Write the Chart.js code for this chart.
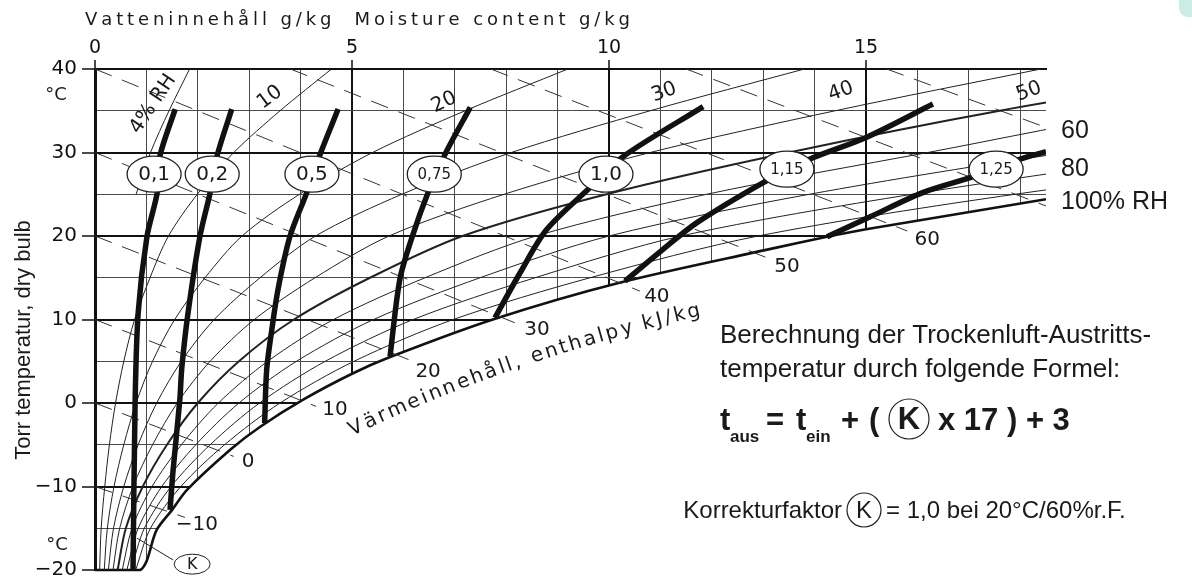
<!DOCTYPE html>
<html>
<head>
<meta charset="utf-8">
<script src="https://cdn.jsdelivr.net/npm/chart.js@4.4.1/dist/chart.umd.min.js"></script>
<style>
  html, body { margin: 0; padding: 0; background: #fff; }
  #wrap { position: relative; width: 1192px; height: 579px; }
</style>
</head>
<body>
<div id="wrap"><canvas id="mollier"></canvas></div>
<script>
// --- data: x = moisture content g/kg, y = dry bulb °C ---

// relative humidity curves, x read at these temperatures
const rhTemps = [-20, -15, -10, -5, 0, 5, 10, 15, 20, 25, 30, 35, 40];
const rh10 = [0.09, 0.12, 0.19, 0.28, 0.4, 0.56, 0.77, 1.07, 1.43, 1.99, 2.7, 3.6, 4.6];
const rh20 = [0.18, 0.24, 0.37, 0.56, 0.8, 1.12, 1.55, 2.14, 2.86, 3.98, 5.4, 7.2, 9.2];
const rh30 = [0.26, 0.36, 0.56, 0.84, 1.2, 1.68, 2.32, 3.21, 4.29, 5.97, 8.1, 10.8, 13.8];
const rh40 = [0.35, 0.48, 0.74, 1.12, 1.6, 2.24, 3.1, 4.28, 5.72, 7.96, 10.8, 14.4, 18.4];
const rh50 = [0.44, 0.6, 0.93, 1.4, 2.0, 2.8, 3.87, 5.35, 7.15, 9.95, 13.5, 17.6, 22.4];
const rh60 = [0.53, 0.72, 1.11, 1.68, 2.4, 3.36, 4.64, 6.42, 8.58, 11.9, 16.2, 20.6, 27.6];
const rh70 = [0.62, 0.84, 1.3, 1.96, 2.8, 3.92, 5.42, 7.49, 10.0, 13.9, 18.9, 25.2, 32.2];
const rh80 = [0.7, 0.96, 1.48, 2.24, 3.2, 4.48, 6.19, 8.56, 11.4, 15.9, 21.6, 28.8, 36.8];
const rh90 = [0.79, 1.08, 1.67, 2.52, 3.6, 5.04, 6.97, 9.63, 12.9, 17.9, 24.3, 32.4, 41.4];
const rh4Temps = [25, 30, 35, 40];
const rh4 = [0.8, 1.08, 1.44, 1.84];

// saturation line (100 % RH) incl. the -20 °C base
const saturation = [[0, -20], [0.88, -20], [1.2, -15.2], [1.5, -12.8], [1.79, -10.4], [2.63, -5.6],
  [3.2, -2.9], [4.05, 0.4], [5.0, 3.5], [5.74, 5.5], [7.74, 10.0], [10.2, 14.4], [13.1, 18.4],
  [14.24, 19.9], [15.0, 20.8], [18.5, 24.4]];

// correction factor K curves
const kNames = ['0,1', '0,2', '0,5', '0,75', '1,0', '1,15', '1,25'];
const k01 = [[0.74, -20], [0.78, 0], [0.84, 10.8], [1.01, 19.9], [1.21, 25.2], [1.26, 29.5], [1.56, 35.2]];
const k02 = [[1.46, -12.8], [1.52, -8], [1.65, 0.4], [1.69, 4.3], [1.81, 10.8], [2.04, 19.9], [2.24, 25.2], [2.37, 29.5], [2.66, 35.2]];
const k05 = [[3.3, -2.4], [3.34, 4], [3.44, 8.8], [3.56, 13.6], [3.79, 19.9], [4.12, 25.2], [4.38, 29.8], [4.73, 35.2]];
const k075 = [[5.74, 5.6], [5.93, 14.8], [6.17, 19.9], [6.48, 25.2], [6.81, 29.8], [7.3, 35.4]];
const k10 = [[7.78, 10.2], [8.27, 15.6], [8.79, 20.8], [9.63, 25.8], [10.27, 29.5], [11.83, 35.5]];
const k115 = [[10.31, 14.6], [11.05, 18.4], [11.71, 21.6], [13.0, 26.4], [13.9, 29.2], [15.0, 31.8], [16.3, 35.8]];
const k125 = [[14.24, 19.9], [15.08, 22.3], [16.1, 25.2], [17.08, 27.1], [18.0, 29.2], [18.5, 30.1]];
const kLabelX = [1.15, 2.28, 4.22, 6.6, 9.94, 13.46, 17.53];
const kLabelT = [27.4, 27.4, 27.4, 27.4, 27.4, 28.0, 28.0];

// enthalpy lines kJ/kg (start, end)
const hValues = [-10, 0, 10, 20, 30, 40, 50, 60, 70, 80];
const hLines = [
  [[0, -10], [1.75, -13.7]],
  [[0, 0], [2.7, -6.4]],
  [[0, 10], [4.3, -0.4]],
  [[0, 20], [6.1, 5.2]],
  [[0, 30], [8.25, 9.4]],
  [[0, 40], [10.6, 13.4]],
  [[3.8, 40], [13.15, 17.2]],
  [[7.7, 40], [15.8, 20.6]],
  [[11.5, 40], [18.5, 23.6]],
  [[15.4, 40], [18.5, 33.0]]
];
const hLabelX = [1.98, 2.98, 4.67, 6.48, 8.6, 10.93, 13.46, 16.19];
const hLabelT = [-14.6, -7.1, -0.8, 3.7, 8.8, 12.7, 16.3, 19.6];

// RH labels at the top
const rhLabels = ['4% RH', '10', '20', '30', '40', '50'];
const rhLabelX = [1.13, 3.4, 6.79, 11.07, 14.51, 18.17];
const rhLabelT = [35.8, 36.6, 36.0, 37.2, 37.3, 37.3];
const rhLabelAngle = [-56, -37, -25, -20, -20, -20];
// RH labels at the right edge
const rhEdgeLabels = ['60', '80', '100% RH'];
const rhEdgeT = [32.6, 28.0, 24.0];

const pairs = arr => arr.map(p => ({ x: p[0], y: p[1] }));
const rows = (xs, ts) => xs.map((v, i) => ({ x: v, y: ts[i] }));

const rhSets = [rh10, rh20, rh30, rh40, rh50, rh60, rh70, rh80, rh90].map((xs, i) => ({
  data: rows(xs, rhTemps),
  borderColor: '#222',
  borderWidth: i === 4 ? 2 : 1,
  tension: 0.3,
  order: 3
}));
rhSets.push({ data: rows(rh4, rh4Temps), borderColor: '#222', borderWidth: 1, tension: 0.3, order: 3 });

const hSets = hLines.map(l => ({
  data: pairs(l),
  borderColor: '#333',
  borderWidth: 1,
  borderDash: [18, 11],
  tension: 0,
  order: 4
}));

const kSets = [k01, k02, k05, k075, k10, k115, k125].map(c => ({
  data: pairs(c),
  borderColor: '#111',
  borderWidth: 5.5,
  borderCapStyle: 'butt',
  tension: 0.3,
  order: 1
}));

const satSet = {
  data: pairs(saturation),
  borderColor: '#111',
  borderWidth: 2.6,
  backgroundColor: '#fff',
  fill: 'start',
  tension: 0.3,
  order: 9,
  clip: { left: 4, top: 0, right: 0, bottom: 4 }
};

function spacedText(ctx, text, x, y, width) {
  const chars = [...text];
  const w = chars.map(ch => ctx.measureText(ch).width);
  const sum = w.reduce((a, b) => a + b, 0);
  const gap = (width - sum) / (chars.length - 1);
  let cx = x;
  chars.forEach((ch, i) => { ctx.fillText(ch, cx, y); cx += w[i] + gap; });
}

function curvedText(ctx, text, p0, p1, p2) {
  const n = 300, pts = [], lens = [0];
  for (let i = 0; i <= n; i++) {
    const t = i / n, a = (1 - t) * (1 - t), b = 2 * (1 - t) * t, c = t * t;
    pts.push([a * p0[0] + b * p1[0] + c * p2[0], a * p0[1] + b * p1[1] + c * p2[1]]);
    if (i > 0) lens.push(lens[i - 1] + Math.hypot(pts[i][0] - pts[i - 1][0], pts[i][1] - pts[i - 1][1]));
  }
  const chars = [...text];
  const w = chars.map(ch => ctx.measureText(ch).width);
  const sum = w.reduce((a, b) => a + b, 0);
  const gap = (lens[n] - sum) / (chars.length - 1);
  let d = 0;
  chars.forEach((ch, i) => {
    const mid = d + w[i] / 2;
    let k = lens.findIndex(l => l >= mid);
    if (k < 1) k = 1;
    const ang = Math.atan2(pts[k][1] - pts[k - 1][1], pts[k][0] - pts[k - 1][0]);
    ctx.save();
    ctx.translate(pts[k][0], pts[k][1]);
    ctx.rotate(ang);
    ctx.textAlign = 'center';
    ctx.fillText(ch, 0, 0);
    ctx.restore();
    d += w[i] + gap;
  });
}

function circledK(ctx, cx, cy, r, font) {
  ctx.beginPath();
  ctx.arc(cx, cy, r, 0, Math.PI * 2);
  ctx.lineWidth = 1.2;
  ctx.strokeStyle = '#222';
  ctx.stroke();
  ctx.font = font;
  ctx.textAlign = 'center';
  ctx.textBaseline = 'middle';
  ctx.fillText('K', cx, cy + 1);
}

const annotations = {
  id: 'annotations',
  afterDraw(chart) {
    const { ctx } = chart;
    const xs = chart.scales.x, ys = chart.scales.y;
    const px = v => xs.getPixelForValue(v), py = v => ys.getPixelForValue(v);
    ctx.save();
    ctx.fillStyle = '#1a1a1a';

    // K ellipses
    kNames.forEach((name, i) => {
      const cx = px(kLabelX[i]), cy = py(kLabelT[i]);
      const small = name.length > 3;
      ctx.beginPath();
      ctx.ellipse(cx, cy, 27, 18, 0, 0, Math.PI * 2);
      ctx.fillStyle = '#fff';
      ctx.fill();
      ctx.lineWidth = 1.3;
      ctx.strokeStyle = '#222';
      ctx.stroke();
      ctx.fillStyle = '#1a1a1a';
      ctx.font = (small ? '15px' : '20px') + ' "DejaVu Sans"';
      ctx.textAlign = 'center';
      ctx.textBaseline = 'middle';
      ctx.fillText(name, cx, cy + 1);
    });

    // K marker at the bottom
    ctx.beginPath();
    ctx.moveTo(px(0.82), py(-16.2));
    ctx.lineTo(px(1.52), py(-18.8));
    ctx.lineWidth = 1;
    ctx.strokeStyle = '#222';
    ctx.stroke();
    ctx.beginPath();
    ctx.ellipse(px(1.89), py(-19.3), 18, 10, 0, 0, Math.PI * 2);
    ctx.fillStyle = '#fff';
    ctx.fill();
    ctx.stroke();
    ctx.fillStyle = '#1a1a1a';
    ctx.font = '16px "DejaVu Sans"';
    ctx.textAlign = 'center';
    ctx.textBaseline = 'middle';
    ctx.fillText('K', px(1.89), py(-19.3) + 1);

    // enthalpy labels
    ctx.font = '20px "DejaVu Sans"';
    hValues.slice(0, hLabelX.length).forEach((h, i) => {
      ctx.fillText(h < 0 ? '\u2212' + (-h) : String(h), px(hLabelX[i]), py(hLabelT[i]));
    });

    // RH labels on the curves
    rhLabels.forEach((t, i) => {
      ctx.save();
      ctx.translate(px(rhLabelX[i]), py(rhLabelT[i]));
      ctx.rotate(rhLabelAngle[i] * Math.PI / 180);
      ctx.font = '20px "DejaVu Sans"';
      ctx.textAlign = 'center';
      ctx.textBaseline = 'middle';
      ctx.fillText(t, 0, 0);
      ctx.restore();
    });

    // RH labels at the right edge
    ctx.font = '25px "Liberation Sans"';
    ctx.textAlign = 'left';
    rhEdgeLabels.forEach((t, i) => ctx.fillText(t, px(18.5) + 15, py(rhEdgeT[i])));

    // enthalpy caption along the saturation line
    ctx.font = '20px "DejaVu Sans"';
    ctx.textBaseline = 'alphabetic';
    curvedText(ctx, 'Värmeinnehåll, enthalpy kJ/kg',
      [px(5.0), py(-3.96)], [px(8.02), py(5.04)], [px(11.77), py(10.44)]);

    // axis titles
    ctx.textAlign = 'left';
    ctx.font = '18px "DejaVu Sans"';
    spacedText(ctx, 'Vatteninnehåll g/kg  Moisture content g/kg', 85, 25, 545);
    ctx.save();
    ctx.translate(30, 340);
    ctx.rotate(-Math.PI / 2);
    ctx.font = '22px "Liberation Sans"';
    ctx.textAlign = 'center';
    ctx.fillText('Torr temperatur, dry bulb', 0, 0);
    ctx.restore();
    ctx.font = '18px "DejaVu Sans"';
    ctx.textAlign = 'center';
    ctx.textBaseline = 'middle';
    ctx.fillText('°C', 56, 95);
    ctx.fillText('°C', 57, 545);

    // formula block
    ctx.textAlign = 'left';
    ctx.textBaseline = 'alphabetic';
    ctx.font = '26px "Liberation Sans"';
    ctx.fillText('Berechnung der Trockenluft-Austritts-', 720, 343);
    ctx.fillText('temperatur durch folgende Formel:', 720, 377);
    ctx.font = 'bold 31px "Liberation Sans"';
    ctx.fillText('t', 720, 430);
    ctx.fillText('=', 766, 430);
    ctx.fillText('t', 796, 430);
    ctx.fillText('+', 841, 430);
    ctx.fillText('(', 869, 430);
    ctx.fillText('x 17 ) + 3', 938, 430);
    ctx.font = 'bold 17px "Liberation Sans"';
    ctx.fillText('aus', 730, 442);
    ctx.fillText('ein', 806, 442);
    circledK(ctx, 909, 419, 20, 'bold 31px "Liberation Sans"');
    ctx.textAlign = 'right';
    ctx.textBaseline = 'alphabetic';
    ctx.font = '24px "Liberation Sans"';
    ctx.fillText('Korrekturfaktor', 842, 518);
    ctx.textAlign = 'left';
    ctx.fillText('= 1,0 bei 20°C/60%r.F.', 886, 518);
    circledK(ctx, 864, 510, 17, '24px "Liberation Sans"');

    // mint corner
    ctx.fillStyle = '#c9ece5';
    ctx.beginPath();
    ctx.roundRect(1179, -10, 30, 27, 9);
    ctx.fill();
    ctx.restore();
  }
};

const ink = '#111', thin = '#4a4a4a', none = 'rgba(0,0,0,0)';

new Chart(document.getElementById('mollier'), {
  type: 'line',
  data: { datasets: [...kSets, ...rhSets, ...hSets, satSet] },
  options: {
    responsive: true,
    maintainAspectRatio: false,
    animation: false,
    devicePixelRatio: 1,
    layout: { padding: { left: 0, top: 0, right: 146, bottom: 9 } },
    elements: { point: { radius: 0, hoverRadius: 0 } },
    plugins: { legend: { display: false }, tooltip: { enabled: false } },
    scales: {
      x: {
        type: 'linear',
        position: 'top',
        min: 0,
        max: 18.5,
        afterFit: s => { s.height = 69; s.paddingLeft = 0; s.paddingRight = 0; },
        border: { display: true, color: ink, width: 2 },
        grid: {
          color: c => (c.tick && c.tick.value % 5 === 0) ? ink : thin,
          lineWidth: c => (c.tick && c.tick.value % 5 === 0) ? 2 : 1,
          tickLength: 9,
          tickWidth: 1.5,
          tickColor: c => (c.tick && c.tick.value % 5 === 0) ? ink : none
        },
        ticks: {
          stepSize: 1,
          includeBounds: false,
          autoSkip: false,
          maxRotation: 0,
          padding: 1,
          color: ink,
          font: { family: 'DejaVu Sans', size: 19 },
          callback: v => (v % 5 === 0 ? String(v) : '')
        }
      },
      y: {
        type: 'linear',
        min: -20,
        max: 40,
        afterFit: s => { s.width = 95; s.paddingTop = 0; s.paddingBottom = 0; },
        border: { display: true, color: ink, width: 3 },
        grid: {
          color: c => (c.tick.value === -20 ? none : (c.tick.value % 10 === 0 ? ink : thin)),
          lineWidth: c => (c.tick.value % 10 === 0 ? 2 : 1),
          tickLength: 13,
          tickWidth: 1.5,
          tickColor: c => (c.tick.value % 10 === 0 ? ink : none)
        },
        ticks: {
          stepSize: 5,
          includeBounds: false,
          autoSkip: false,
          padding: 5,
          color: ink,
          font: { family: 'DejaVu Sans', size: 20 },
          callback: v => (v % 10 === 0 ? (v < 0 ? '\u2212' + (-v) : String(v)) : '')
        }
      }
    }
  },
  plugins: [annotations]
});
</script>
</body>
</html>
